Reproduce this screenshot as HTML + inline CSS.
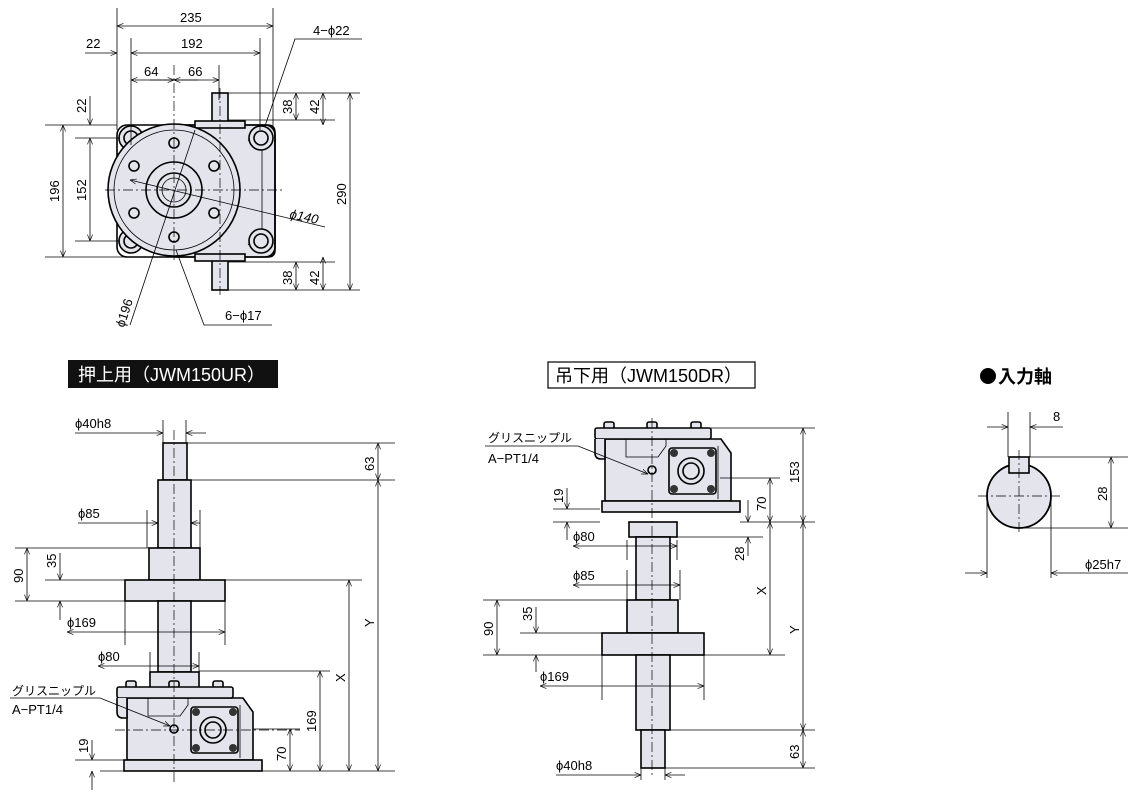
<!DOCTYPE html>
<html><head><meta charset="utf-8"><style>
html,body{margin:0;padding:0;background:#fff}
svg{display:block}
text{font-family:"Liberation Sans","Noto Sans CJK JP",sans-serif;font-size:13px;fill:#000}
.o{fill:#e4e4ec;stroke:#000;stroke-width:1.6}
.t{fill:none;stroke:#000;stroke-width:0.8}
.c{fill:none;stroke:#000;stroke-width:0.7;stroke-dasharray:10 3 2 3}
</style></head><body>
<svg width="1138" height="797" viewBox="0 0 1138 797" xmlns="http://www.w3.org/2000/svg">
<defs>
<marker id="a" viewBox="0 0 10 10" refX="10" refY="5" markerWidth="8" markerHeight="8" orient="auto-start-reverse"><path d="M0,1 L10,5 L0,9" fill="none" stroke="#000" stroke-width="1"/></marker>
<g id="gb">
 <rect class="o" x="126" y="681" width="10" height="7" rx="2"/>
 <rect class="o" x="169" y="681" width="10" height="7" rx="2"/>
 <rect class="o" x="213" y="681" width="10" height="7" rx="2"/>
 <path class="o" d="M127,698 L243,698 L253,712 L253,760 L127,760 Z"/>
 <rect class="o" x="117" y="687" width="116" height="11" rx="2"/>
 <path class="o" d="M117,698 L117,712 Q117,718 123,718 L127,718 L127,698"/>
 <path class="t" d="M148,698 L148,716 L180,716 L188,705 L188,698"/>
 <rect class="o" x="124" y="760" width="138" height="11"/>
 <rect class="o" x="191" y="707" width="47" height="46" rx="3"/>
 <circle cx="196" cy="712" r="4" fill="#333"/><circle cx="233" cy="712" r="4" fill="#333"/>
 <circle cx="196" cy="748" r="4" fill="#333"/><circle cx="233" cy="748" r="4" fill="#333"/>
 <circle class="o" cx="213" cy="730" r="13"/><circle class="o" cx="213" cy="730" r="8"/>
 <circle class="o" cx="174" cy="729" r="4"/>
 <line class="t" x1="240" y1="705" x2="240" y2="758"/>
</g>
</defs>

<!-- ===== TOP VIEW ===== -->
<g>
 <rect class="o" x="212" y="93" width="16" height="33"/>
 <rect class="o" x="212" y="257" width="16" height="33"/>
 <path class="o" d="M174,125 L268,125 Q275,125 275,133 L275,250 Q275,257 268,257 L174,257 Z"/>
 <path class="t" d="M248,140 L262,150 L262,230 L248,245"/>
 <rect class="o" x="117" y="125" width="158" height="132" rx="10" fill-opacity="0"/>
 <rect class="o" x="195" y="121" width="50" height="7"/>
 <rect class="o" x="195" y="254" width="50" height="7"/>
 <circle class="o" cx="131" cy="138" r="12"/><circle class="o" cx="131" cy="138" r="7"/>
 <circle class="o" cx="131" cy="241" r="12"/><circle class="o" cx="131" cy="241" r="7"/>
 <circle class="o" cx="261" cy="138" r="12"/><circle class="o" cx="261" cy="138" r="7"/>
 <circle class="o" cx="261" cy="241" r="12"/><circle class="o" cx="261" cy="241" r="7"/>
 <circle class="o" cx="174" cy="190" r="66"/>
 <circle class="t" cx="174" cy="190" r="60"/>
 <circle class="o" cx="174" cy="190" r="28"/>
 <circle class="o" cx="174" cy="190" r="17"/>
 <circle class="t" cx="174" cy="190" r="12"/>
 <circle class="o" cx="174" cy="143" r="5"/><circle class="o" cx="174" cy="237" r="5"/>
 <circle class="o" cx="134" cy="166" r="5"/><circle class="o" cx="214" cy="166" r="5"/>
 <circle class="o" cx="134" cy="213" r="5"/><circle class="o" cx="214" cy="213" r="5"/>
 <line class="c" x1="105" y1="190" x2="285" y2="190"/>
 <line class="c" x1="174" y1="65" x2="174" y2="262"/>
 <line class="c" x1="220" y1="88" x2="220" y2="295"/>
 <line class="t" x1="117" y1="8" x2="117" y2="130"/><line class="t" x1="273" y1="8" x2="273" y2="130"/>
 <line class="t" x1="117" y1="26" x2="273" y2="26" marker-start="url(#a)" marker-end="url(#a)"/>
 <text x="180" y="22">235</text>
 <line class="t" x1="131" y1="38" x2="131" y2="145"/><line class="t" x1="260" y1="38" x2="260" y2="130"/>
 <line class="t" x1="131" y1="53" x2="260" y2="53" marker-start="url(#a)" marker-end="url(#a)"/>
 <line class="t" x1="85" y1="53" x2="117" y2="53" marker-end="url(#a)"/>
 <text x="86" y="48">22</text><text x="181" y="48">192</text>
 <line class="t" x1="219" y1="65" x2="219" y2="100"/>
 <line class="t" x1="131" y1="80" x2="219" y2="80" marker-start="url(#a)" marker-end="url(#a)"/>
 <line class="t" x1="150" y1="80" x2="174" y2="80" marker-end="url(#a)"/>
 <line class="t" x1="198" y1="80" x2="174" y2="80" marker-end="url(#a)"/>
 <text x="144" y="76">64</text><text x="188" y="76">66</text>
 <line class="t" x1="225" y1="93" x2="360" y2="93"/><line class="t" x1="228" y1="120" x2="335" y2="120"/>
 <line class="t" x1="225" y1="290" x2="360" y2="290"/><line class="t" x1="228" y1="262" x2="335" y2="262"/>
 <line class="t" x1="296" y1="93" x2="296" y2="120" marker-start="url(#a)" marker-end="url(#a)"/>
 <line class="t" x1="323" y1="93" x2="323" y2="125" marker-start="url(#a)" marker-end="url(#a)"/>
 <line class="t" x1="296" y1="262" x2="296" y2="290" marker-start="url(#a)" marker-end="url(#a)"/>
 <line class="t" x1="323" y1="257" x2="323" y2="290" marker-start="url(#a)" marker-end="url(#a)"/>
 <line class="t" x1="350" y1="93" x2="350" y2="290" marker-start="url(#a)" marker-end="url(#a)"/>
 <text transform="translate(292,114) rotate(-90)">38</text>
 <text transform="translate(319,114) rotate(-90)">42</text>
 <text transform="translate(292,285) rotate(-90)">38</text>
 <text transform="translate(319,285) rotate(-90)">42</text>
 <text transform="translate(346,205) rotate(-90)">290</text>
 <line class="t" x1="45" y1="125" x2="117" y2="125"/><line class="t" x1="45" y1="257" x2="130" y2="257"/>
 <line class="t" x1="75" y1="138" x2="120" y2="138"/><line class="t" x1="75" y1="241" x2="120" y2="241"/>
 <line class="t" x1="63" y1="125" x2="63" y2="257" marker-start="url(#a)" marker-end="url(#a)"/>
 <line class="t" x1="90" y1="138" x2="90" y2="241" marker-start="url(#a)" marker-end="url(#a)"/>
 <line class="t" x1="90" y1="96" x2="90" y2="125" marker-end="url(#a)"/>
 <text transform="translate(59,202) rotate(-90)">196</text>
 <text transform="translate(86,201) rotate(-90)">152</text>
 <text transform="translate(86,113) rotate(-90)">22</text>
 <text x="313" y="35">4−ϕ22</text>
 <polyline class="t" points="362,39 295,39 265,126"/>
 <line class="t" x1="325" y1="227" x2="130" y2="180" marker-end="url(#a)"/>
 <text transform="translate(289,218) rotate(12)" font-style="italic">ϕ140</text>
 <line class="t" x1="130" y1="325" x2="195" y2="130"/>
 <text transform="translate(124,328) rotate(-72)">ϕ196</text>
 <polyline class="t" points="176,250 204,325 272,325"/>
 <text x="225" y="320">6−ϕ17</text>
</g>

<!-- ===== UR ===== -->
<rect x="68" y="360" width="210" height="28" fill="#111"/>
<text x="78" y="381" style="font-size:18px;fill:#fff">押上用（JWM150UR）</text>
<rect class="o" x="163" y="443" width="24" height="37"/>
<rect class="o" x="158" y="480" width="33" height="68"/>
<rect class="o" x="149" y="548" width="51" height="32"/>
<rect class="o" x="125" y="580" width="100" height="21"/>
<rect class="o" x="158" y="601" width="33" height="71"/>
<rect class="o" x="150" y="672" width="49" height="16"/>
<use href="#gb"/>
<line class="c" x1="174" y1="430" x2="174" y2="782"/>
<line class="c" x1="115" y1="730" x2="300" y2="730"/>
<line class="t" x1="163" y1="420" x2="163" y2="443"/><line class="t" x1="186" y1="420" x2="186" y2="443"/>
<line class="t" x1="75" y1="433" x2="163" y2="433" marker-end="url(#a)"/>
<line class="t" x1="206" y1="433" x2="186" y2="433" marker-end="url(#a)"/>
<text x="75" y="428">ϕ40h8</text>
<line class="t" x1="187" y1="443" x2="395" y2="443"/><line class="t" x1="191" y1="480" x2="395" y2="480"/>
<line class="t" x1="378" y1="443" x2="378" y2="480" marker-start="url(#a)" marker-end="url(#a)"/>
<line class="t" x1="378" y1="480" x2="378" y2="771" marker-start="url(#a)" marker-end="url(#a)"/>
<text transform="translate(374,471) rotate(-90)">63</text>
<text transform="translate(374,627) rotate(-90)">Y</text>
<line class="t" x1="147" y1="510" x2="147" y2="548"/><line class="t" x1="200" y1="510" x2="200" y2="548"/>
<line class="t" x1="78" y1="523" x2="158" y2="523" marker-end="url(#a)"/>
<line class="t" x1="200" y1="523" x2="191" y2="523" marker-end="url(#a)"/>
<text x="78" y="518">ϕ85</text>
<line class="t" x1="15" y1="548" x2="149" y2="548"/><line class="t" x1="45" y1="580" x2="125" y2="580"/>
<line class="t" x1="15" y1="601" x2="125" y2="601"/>
<line class="t" x1="27" y1="548" x2="27" y2="601" marker-start="url(#a)" marker-end="url(#a)"/>
<line class="t" x1="60" y1="553" x2="60" y2="580" marker-end="url(#a)"/>
<line class="t" x1="60" y1="620" x2="60" y2="601" marker-end="url(#a)"/>
<text transform="translate(23,583) rotate(-90)">90</text>
<text transform="translate(56,568) rotate(-90)">35</text>
<line class="t" x1="225" y1="580" x2="362" y2="580"/>
<line class="t" x1="349" y1="580" x2="349" y2="771" marker-start="url(#a)" marker-end="url(#a)"/>
<text transform="translate(345,682) rotate(-90)">X</text>
<line class="t" x1="125" y1="601" x2="125" y2="645"/><line class="t" x1="225" y1="601" x2="225" y2="645"/>
<line class="t" x1="67" y1="632" x2="225" y2="632" marker-start="url(#a)" marker-end="url(#a)"/>
<text x="67" y="627">ϕ169</text>
<line class="t" x1="150" y1="652" x2="150" y2="672"/><line class="t" x1="199" y1="652" x2="199" y2="672"/>
<line class="t" x1="98" y1="666" x2="199" y2="666" marker-start="url(#a)" marker-end="url(#a)"/>
<text x="98" y="661">ϕ80</text>
<line class="t" x1="199" y1="671" x2="330" y2="671"/>
<line class="t" x1="320" y1="671" x2="320" y2="771" marker-start="url(#a)" marker-end="url(#a)"/>
<text transform="translate(316,732) rotate(-90)">169</text>
<line class="t" x1="253" y1="729" x2="300" y2="729"/>
<line class="t" x1="290" y1="729" x2="290" y2="771" marker-start="url(#a)" marker-end="url(#a)"/>
<text transform="translate(286,761) rotate(-90)">70</text>
<line class="t" x1="75" y1="760" x2="124" y2="760"/><line class="t" x1="100" y1="771" x2="395" y2="771"/>
<line class="t" x1="92" y1="740" x2="92" y2="760" marker-end="url(#a)"/>
<line class="t" x1="92" y1="790" x2="92" y2="771" marker-end="url(#a)"/>
<text transform="translate(88,753) rotate(-90)">19</text>
<text x="12" y="695" style="font-size:12px">グリスニップル</text>
<text x="12" y="714">A−PT1/4</text>
<polyline class="t" points="10,698 100,698 170,726" marker-end="url(#a)"/>

<!-- ===== DR ===== -->
<rect x="548" y="362" width="207" height="26" fill="#fff" stroke="#000" stroke-width="1.2"/>
<text x="555" y="382" style="font-size:18px">吊下用（JWM150DR）</text>
<use href="#gb" transform="translate(478,-259)"/>
<rect class="o" x="629" y="522" width="48" height="15"/>
<rect class="o" x="636" y="537" width="34" height="63"/>
<rect class="o" x="627" y="600" width="51" height="33"/>
<rect class="o" x="602" y="633" width="102" height="22"/>
<rect class="o" x="636" y="655" width="34" height="75"/>
<rect class="o" x="641" y="730" width="24" height="38"/>
<line class="c" x1="652" y1="418" x2="652" y2="775"/>
<line class="t" x1="700" y1="428" x2="815" y2="428"/><line class="t" x1="740" y1="522" x2="815" y2="522"/>
<line class="t" x1="803" y1="428" x2="803" y2="522" marker-start="url(#a)" marker-end="url(#a)"/>
<line class="t" x1="803" y1="522" x2="803" y2="730" marker-start="url(#a)" marker-end="url(#a)"/>
<line class="t" x1="670" y1="730" x2="815" y2="730"/><line class="t" x1="665" y1="768" x2="815" y2="768"/>
<line class="t" x1="803" y1="730" x2="803" y2="768" marker-start="url(#a)" marker-end="url(#a)"/>
<text transform="translate(799,483) rotate(-90)">153</text>
<text transform="translate(799,634) rotate(-90)">Y</text>
<text transform="translate(799,759) rotate(-90)">63</text>
<line class="t" x1="720" y1="478" x2="780" y2="478"/>
<line class="t" x1="770" y1="478" x2="770" y2="522" marker-start="url(#a)" marker-end="url(#a)"/>
<line class="t" x1="770" y1="522" x2="770" y2="655" marker-start="url(#a)" marker-end="url(#a)"/>
<text transform="translate(766,511) rotate(-90)">70</text>
<text transform="translate(766,595) rotate(-90)">X</text>
<line class="t" x1="677" y1="537" x2="763" y2="537"/>
<line class="t" x1="748" y1="500" x2="748" y2="522" marker-end="url(#a)"/>
<line class="t" x1="748" y1="556" x2="748" y2="537" marker-end="url(#a)"/>
<text transform="translate(744,561) rotate(-90)">28</text>
<line class="t" x1="553" y1="509" x2="600" y2="509"/><line class="t" x1="553" y1="522" x2="600" y2="522"/>
<line class="t" x1="567" y1="488" x2="567" y2="509" marker-end="url(#a)"/>
<line class="t" x1="567" y1="540" x2="567" y2="522" marker-end="url(#a)"/>
<text transform="translate(563,503) rotate(-90)">19</text>
<line class="t" x1="627" y1="540" x2="627" y2="560"/><line class="t" x1="677" y1="540" x2="677" y2="560"/>
<line class="t" x1="573" y1="546" x2="677" y2="546" marker-start="url(#a)" marker-end="url(#a)"/>
<text x="573" y="541">ϕ80</text>
<line class="t" x1="627" y1="570" x2="627" y2="600"/><line class="t" x1="680" y1="570" x2="680" y2="600"/>
<line class="t" x1="573" y1="585" x2="680" y2="585" marker-start="url(#a)" marker-end="url(#a)"/>
<text x="573" y="580">ϕ85</text>
<line class="t" x1="483" y1="600" x2="627" y2="600"/><line class="t" x1="520" y1="633" x2="602" y2="633"/>
<line class="t" x1="483" y1="655" x2="785" y2="655"/>
<line class="t" x1="497" y1="600" x2="497" y2="655" marker-start="url(#a)" marker-end="url(#a)"/>
<line class="t" x1="536" y1="607" x2="536" y2="633" marker-end="url(#a)"/>
<line class="t" x1="536" y1="672" x2="536" y2="655" marker-end="url(#a)"/>
<text transform="translate(493,636) rotate(-90)">90</text>
<text transform="translate(532,621) rotate(-90)">35</text>
<line class="t" x1="602" y1="655" x2="602" y2="700"/><line class="t" x1="704" y1="655" x2="704" y2="700"/>
<line class="t" x1="540" y1="686" x2="704" y2="686" marker-start="url(#a)" marker-end="url(#a)"/>
<text x="540" y="681">ϕ169</text>
<line class="t" x1="641" y1="768" x2="641" y2="780"/><line class="t" x1="665" y1="768" x2="665" y2="780"/>
<line class="t" x1="556" y1="775" x2="641" y2="775" marker-end="url(#a)"/>
<line class="t" x1="685" y1="775" x2="665" y2="775" marker-end="url(#a)"/>
<text x="556" y="770">ϕ40h8</text>
<text x="488" y="442" style="font-size:12px">グリスニップル</text>
<text x="488" y="463">A−PT1/4</text>
<polyline class="t" points="485,446 578,446 648,474" marker-end="url(#a)"/>

<!-- ===== 入力軸 ===== -->
<circle cx="988" cy="376" r="8" fill="#000"/>
<text x="998" y="383" style="font-size:18px;font-weight:bold">入力軸</text>
<circle cx="1019" cy="496" r="32" fill="#e4e4ec" stroke="#000" stroke-width="1.8"/>
<rect x="1009" y="457" width="20" height="16" fill="#e4e4ec" stroke="#000" stroke-width="1.6"/>
<line class="c" x1="978" y1="496" x2="1060" y2="496"/>
<line class="c" x1="1019" y1="450" x2="1019" y2="535"/>
<line class="t" x1="1008" y1="412" x2="1008" y2="457"/><line class="t" x1="1030" y1="412" x2="1030" y2="457"/>
<line class="t" x1="987" y1="427" x2="1008" y2="427" marker-end="url(#a)"/>
<line class="t" x1="1063" y1="427" x2="1030" y2="427" marker-end="url(#a)"/>
<text x="1053" y="421">8</text>
<line class="t" x1="1029" y1="457" x2="1128" y2="457"/><line class="t" x1="1019" y1="528" x2="1128" y2="528"/>
<line class="t" x1="1111" y1="457" x2="1111" y2="528" marker-start="url(#a)" marker-end="url(#a)"/>
<text transform="translate(1107,501) rotate(-90)">28</text>
<line class="t" x1="987" y1="496" x2="987" y2="578"/><line class="t" x1="1051" y1="496" x2="1051" y2="578"/>
<line class="t" x1="965" y1="573" x2="987" y2="573" marker-end="url(#a)"/>
<line class="t" x1="1128" y1="573" x2="1051" y2="573" marker-end="url(#a)"/>
<text x="1085" y="569">ϕ25h7</text>
</svg>
</body></html>
